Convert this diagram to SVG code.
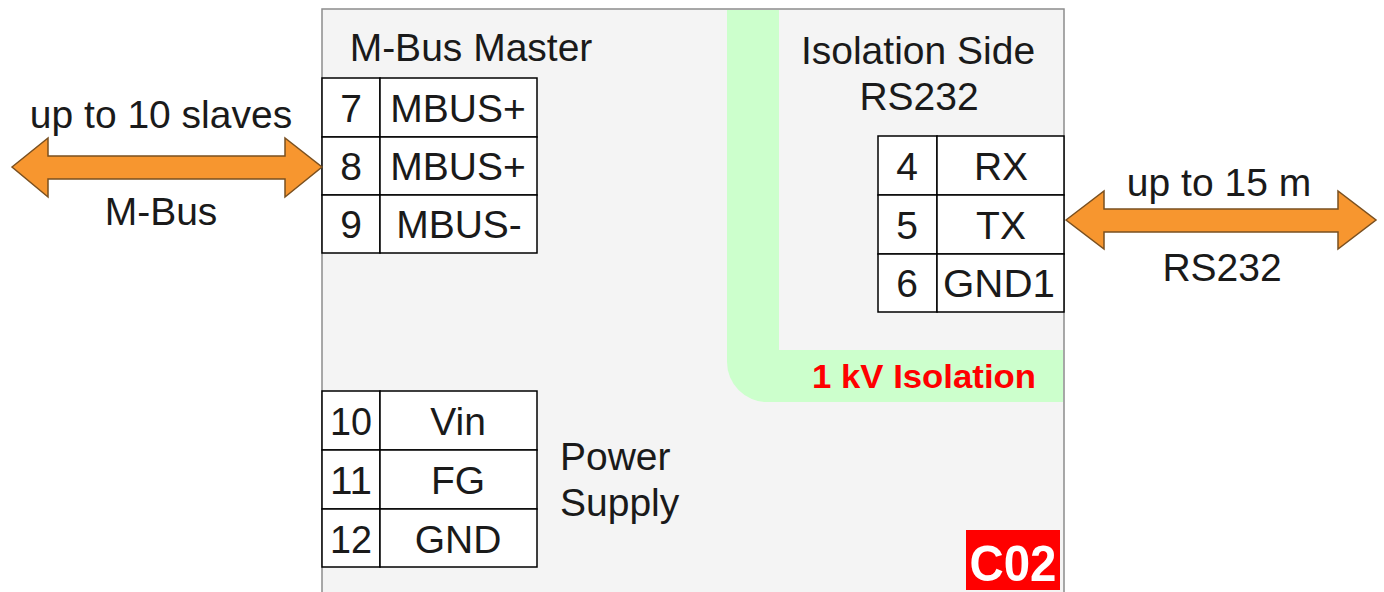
<svg xmlns="http://www.w3.org/2000/svg" width="1384" height="592" viewBox="0 0 1384 592">
<style>
text{font-family:"Liberation Sans",Arial,sans-serif;fill:#1a1a1a}
.t{font-size:39px}
.c{text-anchor:middle}
.cell{fill:#fff;stroke:#000;stroke-width:1.5}
.arrow{fill:#f7962f;stroke:#7a5020;stroke-width:1.5;stroke-linejoin:miter}
</style>
<rect width="1384" height="592" fill="#fff"/>
<g id="module">
<rect x="322" y="9" width="742" height="600" fill="#f4f4f4" stroke="#8c8c8c" stroke-width="1.5"/>
<path d="M727,10 H779 V350 H1063 V402 H767 A40,40 0 0 1 727,362 Z" fill="#ccffcc"/>
<text x="1036" y="388" font-size="33" font-weight="bold" text-anchor="end" style="fill:#ff0000" textLength="224" lengthAdjust="spacingAndGlyphs">1 kV Isolation</text>
<text class="t c" x="471" y="61">M-Bus Master</text>
<text class="t c" x="918" y="64">Isolation Side</text>
<text class="t c" x="919" y="110">RS232</text>
<text class="t" x="560" y="470">Power</text>
<text class="t" x="560" y="516">Supply</text>
</g>
<g id="mbus-terminals">
<rect class="cell" x="322" y="78" width="58" height="59"/>
<rect class="cell" x="380" y="78" width="157" height="59"/>
<rect class="cell" x="322" y="137" width="58" height="58"/>
<rect class="cell" x="380" y="137" width="157" height="58"/>
<rect class="cell" x="322" y="195" width="58" height="58"/>
<rect class="cell" x="380" y="195" width="157" height="58"/>
<text class="t c" x="351" y="122">7</text>
<text class="t c" x="458" y="122">MBUS+</text>
<text class="t c" x="351" y="180">8</text>
<text class="t c" x="458" y="180">MBUS+</text>
<text class="t c" x="351" y="238">9</text>
<text class="t c" x="459" y="238">MBUS-</text>
</g>
<g id="rs232-terminals">
<rect class="cell" x="878" y="136" width="59" height="59"/>
<rect class="cell" x="937" y="136" width="127" height="59"/>
<rect class="cell" x="878" y="195" width="59" height="59"/>
<rect class="cell" x="937" y="195" width="127" height="59"/>
<rect class="cell" x="878" y="254" width="59" height="58"/>
<rect class="cell" x="937" y="254" width="127" height="58"/>
<text class="t c" x="907" y="180">4</text>
<text class="t c" x="1001" y="180">RX</text>
<text class="t c" x="907" y="239">5</text>
<text class="t c" x="1001" y="239">TX</text>
<text class="t c" x="907" y="297">6</text>
<text class="t c" x="999" y="297" textLength="112" lengthAdjust="spacingAndGlyphs">GND1</text>
</g>
<g id="power-terminals">
<rect class="cell" x="322" y="391" width="58" height="59"/>
<rect class="cell" x="380" y="391" width="157" height="59"/>
<rect class="cell" x="322" y="450" width="58" height="59"/>
<rect class="cell" x="380" y="450" width="157" height="59"/>
<rect class="cell" x="322" y="509" width="58" height="58"/>
<rect class="cell" x="380" y="509" width="157" height="58"/>
<text class="t c" x="351" y="435" textLength="42" lengthAdjust="spacingAndGlyphs">10</text>
<text class="t c" x="458" y="435">Vin</text>
<text class="t c" x="351" y="494" textLength="42" lengthAdjust="spacingAndGlyphs">11</text>
<text class="t c" x="458" y="494">FG</text>
<text class="t c" x="351" y="553" textLength="42" lengthAdjust="spacingAndGlyphs">12</text>
<text class="t c" x="458" y="553">GND</text>
</g>
<g id="badge">
<rect x="966" y="530" width="94" height="60" fill="#ff0000"/>
<text x="1013" y="581" font-size="50" font-weight="bold" text-anchor="middle" style="fill:#fff" textLength="87" lengthAdjust="spacingAndGlyphs">C02</text>
</g>
<g id="connectors">
<path class="arrow" d="M12,167 L48,138 V156 H285 V138 L322,167 L285,197 V179 H48 V197 Z"/>
<path class="arrow" d="M1066,220 L1104,191 V209 H1338 V191 L1376,220 L1338,249 V232 H1104 V249 Z"/>
<text class="t c" x="161" y="128">up to 10 slaves</text>
<text class="t c" x="161" y="225">M-Bus</text>
<text class="t c" x="1219" y="196">up to 15 m</text>
<text class="t c" x="1222" y="281">RS232</text>
</g>
</svg>
